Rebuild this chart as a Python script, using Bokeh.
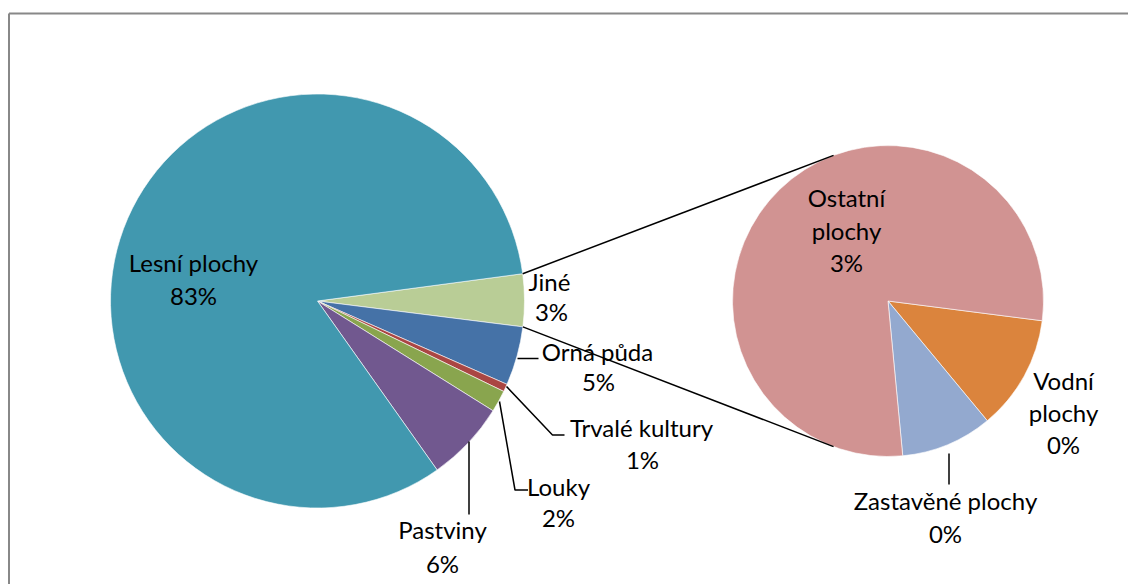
import numpy as np
from bokeh.plotting import figure
from bokeh.models import Range1d, ColumnDataSource
from bokeh.embed import file_html
from bokeh.resources import INLINE
from bokeh.core.properties import value

W, H = 1128, 584

# ---- data ----
main_names = ["Jiné", "Orná půda", "Trvalé kultury", "Louky", "Pastviny", "Lesní plochy"]
main_pct_labels = ["3%", "5%", "1%", "2%", "6%", "83%"]
main_colors = ["#B9CD96", "#4572A7", "#AA4643", "#89A54E", "#71588F", "#4198AF"]

sub_names = ["Vodní plochy", "Zastavěné plochy", "Ostatní plochy"]
sub_values = [0.49, 0.39, 3.22]
sub_pct_labels = ["0%", "0%", "3%"]
sub_colors = ["#DB843D", "#93A9CF", "#D19392"]

other_value = sum(sub_values)  # "Jiné"
main_values = [other_value, 4.6, 0.6, 1.7, 6.3, 82.7]

FONT = value("Lato")
FS = "24px"
DY = -2  # small vertical label adjustment

def Y(py):
    return H - py

p = figure(width=W, height=H, x_range=Range1d(0, W), y_range=Range1d(0, H),
           output_backend="svg", toolbar_location=None, min_border=0)
p.axis.visible = False
p.grid.visible = False
p.outline_line_color = None
p.background_fill_color = "white"
p.border_fill_color = "white"

# frame (top and left edges visible)
p.segment(x0=[8.5, 8.5], y0=[Y(13), Y(13)], x1=[W, 8.5], y1=[Y(13), 0],
          line_color="#888888", line_width=2)

# ---- main pie ----
cx1, cy1, R1 = 317.0, Y(300.5), 207.0
mv = np.array(main_values, dtype=float)
mang = mv / mv.sum() * 2 * np.pi
top = np.radians(0.2) + mang[0] / 2
ends = top - np.concatenate([[0], np.cumsum(mang)[:-1]])
starts = ends - mang
src1 = ColumnDataSource(dict(start=starts, end=ends, color=main_colors, name=main_names))
p.wedge(x=cx1, y=cy1, radius=R1, start_angle="start", end_angle="end",
        fill_color="color", line_color="white", line_width=0.6, source=src1)

# ---- secondary pie ----
cx2, cy2, R2 = 887.5, Y(300.5), 155.5
sv = np.array(sub_values, dtype=float)
sang = sv / sv.sum() * 2 * np.pi
s_top = np.radians(-7.3)
s_ends = s_top - np.concatenate([[0], np.cumsum(sang)[:-1]])
s_starts = s_ends - sang
src2 = ColumnDataSource(dict(start=s_starts, end=s_ends, color=sub_colors, name=sub_names))
p.wedge(x=cx2, y=cy2, radius=R2, start_angle="start", end_angle="end",
        fill_color="color", line_color="white", line_width=0.6, source=src2)

# ---- connector lines between pies ----
a_up, a_dn = ends[0], starts[0]
b_ang = np.radians(110.5)
p.segment(x0=[cx1 + R1 * np.cos(a_up), cx1 + R1 * np.cos(a_dn)],
          y0=[cy1 + R1 * np.sin(a_up), cy1 + R1 * np.sin(a_dn)],
          x1=[cx2 + R2 * np.cos(b_ang), cx2 + R2 * np.cos(-b_ang)],
          y1=[cy2 + R2 * np.sin(b_ang), cy2 + R2 * np.sin(-b_ang)],
          line_color="black", line_width=1.5)

# ---- leader lines ----
leaders_x = [[517, 538], [506, 552, 564], [499, 514.5, 527.5], [468.5, 468.5], [948.5, 948.5]]
leaders_y = [[358, 358], [386, 434.5, 434.5], [401, 489.5, 489.5], [441, 514], [453, 484]]
p.multi_line(xs=leaders_x, ys=[[Y(v) for v in ys] for ys in leaders_y],
             line_color="black", line_width=1.5)

# ---- labels ----
lab_x, lab_y, lab_t = [], [], []
def add(x, y, t):
    lab_x.append(x); lab_y.append(Y(y + DY)); lab_t.append(t)

add(193, 264, "Lesní plochy"); add(193, 297, main_pct_labels[5])
add(549, 283, "Jiné"); add(551, 313, main_pct_labels[0])
add(597, 353, "Orná půda"); add(598, 383, main_pct_labels[1])
add(641, 429, "Trvalé kultury"); add(642, 461, main_pct_labels[2])
add(558, 488, "Louky"); add(558, 519, main_pct_labels[3])
add(442, 531, "Pastviny"); add(442, 565, main_pct_labels[4])
add(846, 199, "Ostatní"); add(846, 232, "plochy"); add(846, 264, sub_pct_labels[2])
add(1063, 382, "Vodní"); add(1063, 414, "plochy"); add(1063, 446, sub_pct_labels[0])
add(945, 502, "Zastavěné plochy"); add(945, 535, sub_pct_labels[1])

p.text(x=lab_x, y=lab_y, text=lab_t, text_align="center", text_baseline="middle",
       text_font=FONT, text_font_size=FS, text_color="black")

open("out.html", "w").write(file_html(p, INLINE))
